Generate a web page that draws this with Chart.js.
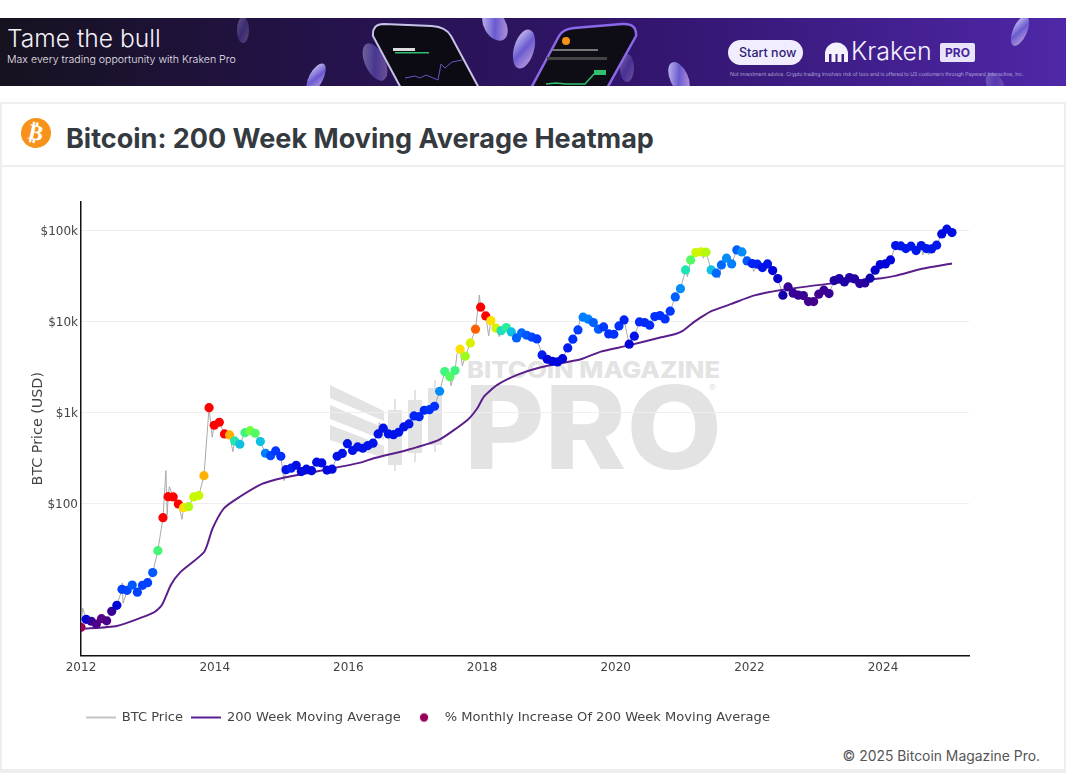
<!DOCTYPE html>
<html>
<head>
<meta charset="utf-8">
<title>Bitcoin: 200 Week Moving Average Heatmap</title>
<script src="https://cdn.jsdelivr.net/npm/chart.js@4"></script>
<style>
  html, body { margin: 0; padding: 0; background: #fff; overflow: hidden; }
  body { width: 1066px; height: 773px; position: relative; font-family: Inter, sans-serif; }
  #banner { position: absolute; left: 0; top: 18px; width: 1066px; height: 68px; overflow: hidden;
    background: linear-gradient(90deg, #16121f 0%, #24124a 30%, #331670 62%, #4f27a8 100%); color: #fff; }
  #banner svg { position: absolute; left: 0; top: 0; }
  #banner div { position: absolute; white-space: nowrap; }
  #card { position: absolute; left: 0; top: 102px; width: 1062px; height: 665px; border: 2px solid #eee; border-bottom-width: 4px; }
  #head { position: absolute; left: 0; top: 0; right: 0; height: 61px; border-bottom: 2px solid #eee; }
  #coin { position: absolute; left: 19px; top: 14px; width: 30px; height: 30px; border-radius: 50%; background: #f7931a;
    color: #fff; font: bold 22px/30px "DejaVu Sans"; text-align: center; transform: rotate(12deg); }
  #title { position: absolute; left: 64px; top: 17px; font: 700 27px/36px Inter; color: #343a40; white-space: nowrap; }
  #mark { position: absolute; left: 0; top: 0; }
  #chartBox { position: absolute; left: 0; top: 170px; width: 1066px; height: 564px; }
  #copy { position: absolute; right: 26px; top: 747px; font: 13.9px/18px Inter; color: #555; }
</style>
</head>
<body>

<div id="banner">
  <svg width="1066" height="68" viewBox="0 18 1066 68">
    <defs>
      <linearGradient id="glass" x1="0" y1="0" x2="1" y2="1">
        <stop offset="0" stop-color="#d8d4f4"/><stop offset="0.5" stop-color="#6a5ad0"/><stop offset="1" stop-color="#c9a6dc"/>
      </linearGradient>
    </defs>
    <ellipse cx="243" cy="30" rx="6" ry="13" fill="url(#glass)" opacity="0.35"/>
    <ellipse cx="316" cy="78" rx="7" ry="16" transform="rotate(28 316 78)" fill="url(#glass)"/>
    <ellipse cx="375" cy="62" rx="10" ry="20" transform="rotate(-25 375 62)" fill="url(#glass)" opacity="0.5"/>
    <ellipse cx="495" cy="25" rx="11" ry="17" transform="rotate(-30 495 25)" fill="url(#glass)"/>
    <ellipse cx="524" cy="49" rx="10" ry="20" transform="rotate(16 524 49)" fill="url(#glass)"/>
    <ellipse cx="627" cy="68" rx="7" ry="14" fill="url(#glass)" opacity="0.4"/>
    <ellipse cx="679" cy="78" rx="9" ry="17" transform="rotate(-24 679 78)" fill="url(#glass)"/>
    <ellipse cx="1020" cy="31" rx="7" ry="16" transform="rotate(24 1020 31)" fill="url(#glass)"/>
    <ellipse cx="995" cy="84" rx="8" ry="12" transform="rotate(-30 995 84)" fill="url(#glass)" opacity="0.35"/>
    <path d="M373,36 Q372,24 384,24 L432,26 Q446,27 451,36 L480,90 L402,90 Z" fill="#0c0a12" stroke="#c9c2e8" stroke-width="2"/>
    <path d="M530,90 L559,36 Q563,29 574,28 L622,24 Q637,23 636,36 L606,90 Z" fill="#0e0c14" stroke="#8a68e8" stroke-width="2.5"/>
    <polyline points="405,78 415,76 420,78 426,75 438,80 441,64 445,68 452,62 462,60" fill="none" stroke="#6a54c8" stroke-width="1"/>
    <polyline points="546,84 556,83 566,84 585,84 594,74" fill="none" stroke="#30c070" stroke-width="1.5"/>
    <rect x="594" y="70" width="12" height="5" fill="#30c070"/>
    <rect x="393" y="48" width="22" height="3" fill="#ddd"/>
    <rect x="395" y="52" width="34" height="1.5" fill="#30c070"/>
    <circle cx="566" cy="41" r="4" fill="#f7931a"/>
    <rect x="552" y="49" width="46" height="2" fill="#777"/>
    <rect x="547" y="57" width="60" height="3" fill="#444"/>
    <rect x="728" y="40" width="75" height="25" rx="12.5" fill="#f1edff"/>
    <path d="M825,62 V54 a11.5,11.5 0 0 1 23,0 V62 h-4 V54 h-2.5 V62 h-4 V54 h-2 V62 h-4 V54 h-2.5 V62 Z" fill="#f4f1ff"/>
    <rect x="940" y="43" width="35" height="19" rx="2" fill="#e9e4fb"/>
  </svg>
  <div style="left:7px;top:5px;font:300 24.6px/30px Inter;color:#f2f0f6">Tame the bull</div>
  <div style="left:7px;top:35px;font:300 10.6px/14px Inter;color:#e8e6ee">Max every trading opportunity with Kraken Pro</div>
  <div style="left:739px;top:26px;font:500 12.5px/17px Inter;color:#2d1c74">Start now</div>
  <div style="left:851px;top:17px;font:300 25px/32px Inter;color:#f4f1ff">Kraken</div>
  <div style="left:945px;top:27px;font:700 12px/15px Inter;color:#45249a">PRO</div>
  <div style="left:730px;top:53px;font:300 5.15px/7px Inter;color:#cbc4e4">Not investment advice. Crypto trading involves risk of loss and is offered to US customers through Payward Interactive, Inc.</div>
</div>

<div id="card">
  <div id="head">
    <div id="coin">₿</div>
    <div id="title">Bitcoin: 200 Week Moving Average Heatmap</div>
  </div>
</div>

<svg id="mark" width="1066" height="773">
  <g fill="#e3e3e3">
    <polygon points="330,385 384,411 384,421 330,398"/>
    <polygon points="330,405 384,428 384,440 330,419"/>
    <polygon points="330,425 384,446 384,458 330,440"/>
    <rect x="388" y="410" width="14" height="55"/>
    <rect x="394" y="399" width="2" height="72"/>
    <rect x="408" y="400" width="14" height="53"/>
    <rect x="414" y="390" width="2" height="72"/>
    <rect x="428" y="388" width="14" height="57"/>
    <rect x="434" y="380" width="2" height="72"/>
    <text x="467" y="378" font-family="Inter" font-weight="800" font-size="23" textLength="253" lengthAdjust="spacingAndGlyphs">BITCOIN MAGAZINE</text>
    <text x="464" y="469" font-family="Inter" font-weight="800" font-size="115" textLength="258" lengthAdjust="spacingAndGlyphs">PRO</text>
    <text x="709" y="392" font-family="Inter" font-size="10">®</text>
  </g>
</svg>

<div id="chartBox"><canvas id="heatmap" width="1066" height="564"></canvas></div>
<div id="copy">© 2025 Bitcoin Magazine Pro.</div>

<script>
// dots, one every four weeks
const dotDates = [
  '2012-01-04','2012-02-01','2012-02-29','2012-03-28','2012-04-25','2012-05-23','2012-06-20','2012-07-18','2012-08-15','2012-09-12','2012-10-10','2012-11-07','2012-12-05',
  '2013-01-02','2013-01-30','2013-02-27','2013-03-27','2013-04-24','2013-05-22','2013-06-19','2013-07-17','2013-08-14','2013-09-11','2013-10-09','2013-11-06','2013-12-04',
  '2014-01-01','2014-01-29','2014-02-26','2014-03-26','2014-04-23','2014-05-21','2014-06-18','2014-07-16','2014-08-13','2014-09-10','2014-10-08','2014-11-05','2014-12-03','2014-12-31',
  '2015-01-28','2015-02-25','2015-03-25','2015-04-22','2015-05-20','2015-06-17','2015-07-15','2015-08-12','2015-09-09','2015-10-07','2015-11-04','2015-12-02','2015-12-30',
  '2016-01-27','2016-02-24','2016-03-23','2016-04-20','2016-05-18','2016-06-15','2016-07-13','2016-08-10','2016-09-07','2016-10-05','2016-11-02','2016-11-30','2016-12-28',
  '2017-01-25','2017-02-22','2017-03-22','2017-04-19','2017-05-17','2017-06-14','2017-07-12','2017-08-09','2017-09-06','2017-10-04','2017-11-01','2017-11-29','2017-12-27',
  '2018-01-24','2018-02-21','2018-03-21','2018-04-18','2018-05-16','2018-06-13','2018-07-11','2018-08-08','2018-09-05','2018-10-03','2018-10-31','2018-11-28','2018-12-26',
  '2019-01-23','2019-02-20','2019-03-20','2019-04-17','2019-05-15','2019-06-12','2019-07-10','2019-08-07','2019-09-04','2019-10-02','2019-10-30','2019-11-27','2019-12-25',
  '2020-01-22','2020-02-19','2020-03-18','2020-04-15','2020-05-13','2020-06-10','2020-07-08','2020-08-05','2020-09-02','2020-09-30','2020-10-28','2020-11-25','2020-12-23',
  '2021-01-20','2021-02-17','2021-03-17','2021-04-14','2021-05-12','2021-06-09','2021-07-07','2021-08-04','2021-09-01','2021-09-29','2021-10-27','2021-11-24','2021-12-22',
  '2022-01-19','2022-02-16','2022-03-16','2022-04-13','2022-05-11','2022-06-08','2022-07-06','2022-08-03','2022-08-31','2022-09-28','2022-10-26','2022-11-23','2022-12-21',
  '2023-01-18','2023-02-15','2023-03-15','2023-04-12','2023-05-10','2023-06-07','2023-07-05','2023-08-02','2023-08-30','2023-09-27','2023-10-25','2023-11-22','2023-12-20',
  '2024-01-17','2024-02-14','2024-03-13','2024-04-10','2024-05-08','2024-06-05','2024-07-03','2024-07-31','2024-08-28','2024-09-25','2024-10-23','2024-11-20','2024-12-18',
  '2025-01-15'
];
const dotPrices = [
  4.36,5.34,5.08,4.74,5.43,5.14,6.54,7.61,11.4,11.1,12.7,10.6,12.6,
  13.5,17.4,30.3,69.8,118.8,118,98.7,89.9,92.2,118,122,202,1129,
  723,780,580,566,486,447,600,631,591,478,356,335,378,330,
  235,244,263,224,238,229,284,279,233,238,330,355,454,
  382,418,404,432,459,580,671,580,570,606,693,748,915,
  899,1057,1073,1170,1710,2810,2474,2880,4950,4146,5800,8210,14320,
  11490,10200,8420,7920,8550,7670,6590,7475,7050,6705,6420,4285,3840,
  3650,3590,3900,5116,6376,8066,11120,10570,9700,8210,8700,7290,7230,
  8920,10390,5616,6880,9870,9700,9080,11290,11580,10650,12950,18590,22900,
  36800,47400,57000,58000,57600,36800,33860,41760,49500,42850,61050,58000,46230,
  43170,42520,39000,42850,36170,29540,19400,23940,20410,19400,19200,16500,16500,
  19900,22030,20200,28080,29540,27160,30290,29310,26030,26490,29840,36500,42090,
  42850,47400,68060,67550,63100,67050,60000,68060,63100,62600,68800,91500,103100,
  94600
];
// low = magenta, high = red
const monthlyIncrease = [
  0,4,2.3,1.6,1.2,1.6,2.2,4,5.2,5.3,5.5,5.2,5.2,
  5.2,5.5,8.6,14,14,14,14,11,9.8,10,10,12,14,
  14,14,14,12,8,7,8.5,9.2,8.8,7,6,5.3,5.1,5,
  4.4,4.6,4.3,4.2,4.2,4.2,4.3,4.3,4.2,4.2,4.4,4.4,4.4,
  4.4,4.4,4.4,4.4,4.4,4.4,4.4,4.4,4.4,4.4,4.4,4.5,4.8,
  4.8,4.8,5,5,6.2,8.5,8.8,8.5,11,9.6,10.3,13,14,
  14,11,10.2,7.8,8.2,7,5.6,5.7,5.5,5.3,5.1,4.6,4.1,
  4.1,4.1,4.1,4.6,5,5.2,6,6,5.6,5.5,5.1,5,5,
  5,4.7,4,4.4,4.9,4.9,4.9,5,5,5,5.1,5.6,6.2,
  7.9,8.8,10,10.2,9.8,7,5.7,5.7,6.2,6,5.6,6.2,5.5,
  4.7,4.7,4.4,4.4,4,3.6,2.9,2.2,2.2,2.1,2.1,1.9,1.9,
  2,2.1,2.2,2.6,2.7,2.7,2.6,2.6,2.5,2.5,3,3.7,4,
  4,4.1,4.4,4.5,4.5,4.5,4.5,4.5,4.5,4.5,4.5,4.2,4.3,
  4.3
];
// highs and lows of the grey line that fall between the dots
const spikeDates = ['2012-01-10','2012-08-13','2012-08-18','2013-04-09','2013-04-16','2013-04-28','2013-07-06','2013-12-18','2014-04-10','2015-01-14','2016-06-18','2017-07-15','2017-08-17','2017-09-15','2017-12-17','2018-02-06','2018-04-05','2019-06-26','2021-01-27','2021-04-24','2021-07-20','2022-01-24','2024-08-05','2024-09-06'];
const spikePrices = [7.1,13.4,8,230,74,153,67,534,371,178,770,1960,4400,3230,19500,6930,6800,12300,31000,49500,29800,35260,53800,53800];

const maDates = ['2012-01-05','2012-07-15','2013-01-31','2013-03-18','2013-05-06','2013-06-26','2013-11-05','2013-12-19','2014-02-16','2014-04-14','2014-09-16','2015-01-12','2015-06-07','2016-03-07','2016-05-19','2016-11-18','2017-05-10','2017-10-13','2017-12-06','2018-01-11','2018-03-25','2018-07-12','2018-11-18','2019-06-25','2019-10-12','2020-03-07','2020-09-06','2020-11-18','2021-01-01','2021-03-07','2021-04-24','2021-06-07','2021-09-25','2022-01-23','2022-06-25','2023-03-07','2023-12-25','2024-03-07','2024-08-01','2025-01-12'];
const maValues = [4.21,4.51,6.31,7.67,12.7,17.5,29.5,52.5,86.4,107,164,192,218,281,314,387,499,827,1112,1491,2005,2584,3140,3840,4658,5420,6705,7230,7860,9950,11490,12950,15570,19200,22190,25840,29840,31620,37800,43170];

const yTicks = [100, 1000, 10000, 100000];
const xTickYears = [2012, 2014, 2016, 2018, 2020, 2022, 2024];

// heat colour scale
const heatStops = ['#a0005a','#60007f','#400090','#1000b0','#0000d8','#0030ff','#0080ff','#10c0e0','#20e8b0','#60ff50','#c8f800','#ffe000','#ffb000','#ff6000','#ff0000'];

function heatColour(v) {
  const i = Math.min(Math.floor(v), heatStops.length - 2);
  const t = v - i;
  const a = heatStops[i], b = heatStops[i + 1];
  let out = 'rgb(';
  for (let c = 0; c < 3; c++) {
    const pa = parseInt(a.substr(1 + c * 2, 2), 16);
    const pb = parseInt(b.substr(1 + c * 2, 2), 16);
    out += Math.round(pa + (pb - pa) * t) + (c < 2 ? ',' : ')');
  }
  return out;
}

// dot dates sit about 3 days late against the year ticks
const dotTime = d => Date.parse(d) - 3 * 86400000;

const pricePoints = dotDates.map((d, i) => ({ x: dotTime(d), y: dotPrices[i] }))
  .concat(spikeDates.map((d, i) => ({ x: Date.parse(d), y: spikePrices[i] })))
  .sort((a, b) => a.x - b.x);

function legendIcon(kind, colour) {
  const c = document.createElement('canvas');
  c.width = 30; c.height = 12;
  const g = c.getContext('2d');
  g.strokeStyle = g.fillStyle = colour;
  if (kind === 'dot') {
    g.beginPath(); g.arc(15, 6, 4.2, 0, Math.PI * 2); g.fill();
  } else {
    g.lineWidth = kind === 'thick' ? 2 : 1.5;
    g.beginPath(); g.moveTo(0, 6); g.lineTo(30, 6); g.stroke();
  }
  return c;
}

const legendRows = [
  { text: 'BTC Price', pointStyle: legendIcon('thin', '#b0b0b0') },
  { text: '200 Week Moving Average', pointStyle: legendIcon('thick', '#5b1f95') },
  { text: '% Monthly Increase Of 200 Week Moving Average', pointStyle: legendIcon('dot', '#99005c') }
];

const moveLegend = {
  id: 'moveLegend',
  afterLayout(chart) { chart.legend.left = 77.7; }
};

new Chart(document.getElementById('heatmap'), {
  type: 'line',
  data: {
    datasets: [
      { label: 'BTC Price', data: pricePoints, borderColor: '#aaaaaa', borderWidth: 1, pointRadius: 0, order: 3 },
      { label: '200 Week Moving Average', data: maDates.map((d, i) => ({ x: Date.parse(d), y: maValues[i] })),
        borderColor: '#5b1f8c', borderWidth: 2, pointRadius: 0, tension: 0.2, order: 2 },
      { label: '% Monthly Increase Of 200 Week Moving Average', data: dotDates.map((d, i) => ({ x: dotTime(d), y: dotPrices[i] })),
        showLine: false, pointRadius: 4.6, pointBorderWidth: 0, pointBackgroundColor: monthlyIncrease.map(heatColour), order: 1 }
    ]
  },
  plugins: [moveLegend],
  options: {
    responsive: false,
    animation: false,
    layout: { padding: { left: 30, right: 97, top: 32, bottom: 0 } },
    plugins: {
      tooltip: { enabled: false },
      legend: {
        position: 'bottom',
        align: 'start',
        onClick: null,
        labels: {
          usePointStyle: true,
          pointStyleWidth: 28.5,
          padding: 9,
          color: '#444',
          font: { family: 'DejaVu Sans', size: 13.05 },
          generateLabels: () => legendRows.map(r => ({ text: r.text, pointStyle: r.pointStyle, fontColor: '#444', lineWidth: 0, hidden: false }))
        }
      }
    },
    scales: {
      x: {
        type: 'linear',
        min: Date.parse('2012-01-01'),
        max: Date.parse('2025-04-15'),
        grid: { display: false, drawTicks: false },
        border: { display: true, color: '#111', width: 1.5 },
        afterBuildTicks: s => { s.ticks = xTickYears.map(y => ({ value: Date.UTC(y, 0, 1) })); },
        afterFit: s => { s.height = 46.5; },
        ticks: {
          maxRotation: 0, autoSkip: false, padding: 5, color: '#444',
          font: { family: 'DejaVu Sans', size: 12 },
          callback: v => new Date(v).getUTCFullYear()
        }
      },
      y: {
        type: 'logarithmic',
        min: 2.14,
        max: 205000,
        grid: { color: '#eee', drawTicks: false },
        border: { display: true, color: '#111', width: 1.5 },
        afterBuildTicks: s => { s.ticks = yTicks.map(v => ({ value: v })); },
        afterFit: s => { s.width = 51; },
        title: { display: true, text: 'BTC Price (USD)', color: '#444', padding: 0, font: { family: 'DejaVu Sans', size: 14.3 } },
        ticks: {
          padding: 3, color: '#444', autoSkip: false, labelOffset: 1,
          font: { family: 'DejaVu Sans', size: 12 },
          callback: v => v >= 1000 ? '$' + (v / 1000) + 'k' : '$' + v
        }
      }
    }
  }
});
</script>
</body>
</html>
